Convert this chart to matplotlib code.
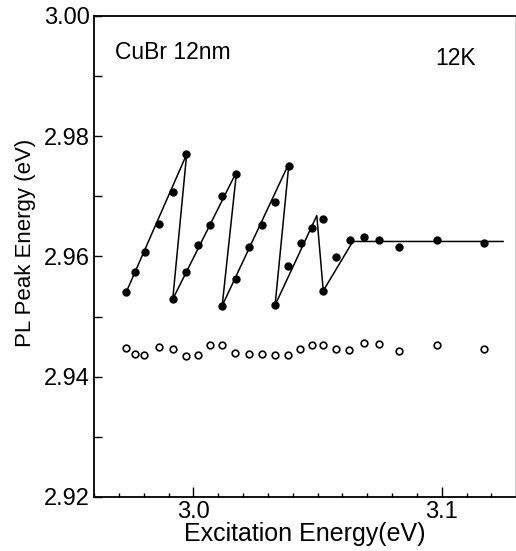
import numpy as np
import matplotlib.pyplot as plt
from matplotlib.ticker import MultipleLocator

plt.rcParams['font.family'] = ['Liberation Sans', 'DejaVu Sans']

# --- Data ---
# PL peak energy (filled dots), one sawtooth after another
filled_x = [2.9730, 2.9767, 2.9804, 2.9862, 2.9918, 2.9971,
            2.9917, 2.9970, 3.0020, 3.0068, 3.0116, 3.0172,
            3.0116, 3.0171, 3.0224, 3.0278, 3.0329, 3.0384,
            3.0329, 3.0382, 3.0434, 3.0478, 3.0523,
            3.0523, 3.0576, 3.0631, 3.0687, 3.0748, 3.0828, 3.0981, 3.1170]
filled_y = [2.9541, 2.9574, 2.9607, 2.9654, 2.9708, 2.9770,
            2.9530, 2.9574, 2.9619, 2.9652, 2.9701, 2.9737,
            2.9518, 2.9563, 2.9616, 2.9652, 2.9690, 2.9751,
            2.9519, 2.9584, 2.9622, 2.9648, 2.9663,
            2.9543, 2.9599, 2.9628, 2.9632, 2.9627, 2.9615, 2.9627, 2.9622]

# guide line through the sawtooth
line_x = [2.9730, 2.9973, 2.9917, 3.0174, 3.0116, 3.0385,
          3.0329, 3.0497, 3.0523, 3.0642, 3.1247]
line_y = [2.9541, 2.9770, 2.9529, 2.9741, 2.9518, 2.9755,
          2.9519, 2.9668, 2.9543, 2.9625, 2.9625]

# second emission band (open circles)
open_x = [2.9729, 2.9767, 2.9802, 2.9861, 2.9917, 2.9969, 3.0018, 3.0066,
          3.0116, 3.0169, 3.0224, 3.0277, 3.0328, 3.0381, 3.0431, 3.0477,
          3.0523, 3.0574, 3.0628, 3.0686, 3.0746, 3.0828, 3.0981, 3.1170]
open_y = [2.9447, 2.9438, 2.9437, 2.9450, 2.9446, 2.9435, 2.9437, 2.9453,
          2.9453, 2.9440, 2.9438, 2.9438, 2.9437, 2.9437, 2.9446, 2.9453,
          2.9453, 2.9446, 2.9444, 2.9456, 2.9455, 2.9442, 2.9453, 2.9446]

# --- Plot ---
fig = plt.figure(figsize=(5.16, 5.51), dpi=100)
ax = fig.add_axes([94 / 516, 1 - 497 / 551, 421 / 516, 481 / 551])

ax.plot(line_x, line_y, color='black', lw=1.1)
ax.plot(filled_x, filled_y, 'o', color='black', ms=5)
ax.plot(open_x, open_y, 'o', mfc='white', mec='black', mew=1.2, ms=4.8)

ax.set_xlim(2.96, 3.1295)
ax.set_ylim(2.92, 3.00)
ax.set_xticks([3.0, 3.1])
ax.set_xticklabels(['3.0', '3.1'])
ax.xaxis.set_minor_locator(MultipleLocator(0.01))
ax.set_yticks([2.92, 2.94, 2.96, 2.98, 3.00])
ax.yaxis.set_minor_locator(MultipleLocator(0.01))

ax.tick_params(axis='both', which='both', direction='in', top=False, right=False,
               labelsize=17, width=1)
ax.tick_params(axis='x', which='major', length=7, pad=3)
ax.tick_params(axis='x', which='minor', length=3)
ax.tick_params(axis='y', which='both', length=6, pad=3)

for side in ['left', 'bottom', 'top']:
    ax.spines[side].set_linewidth(1.3)
ax.spines['right'].set_linewidth(0.5)
ax.spines['right'].set_color('#bbbbbb')

ax.set_xlabel('Excitation Energy(eV)', fontsize=18, labelpad=-1)
ax.set_ylabel('PL Peak Energy (eV)', fontsize=16, labelpad=4)
ax.yaxis.set_label_coords(-0.138, 0.528)

ax.text(2.9686, 2.994, 'CuBr 12nm', fontsize=16.5, va='center', ha='left')
ax.text(3.0973, 2.993, '12K', fontsize=16.5, va='center', ha='left')

fig.savefig('out.png', dpi=100)
